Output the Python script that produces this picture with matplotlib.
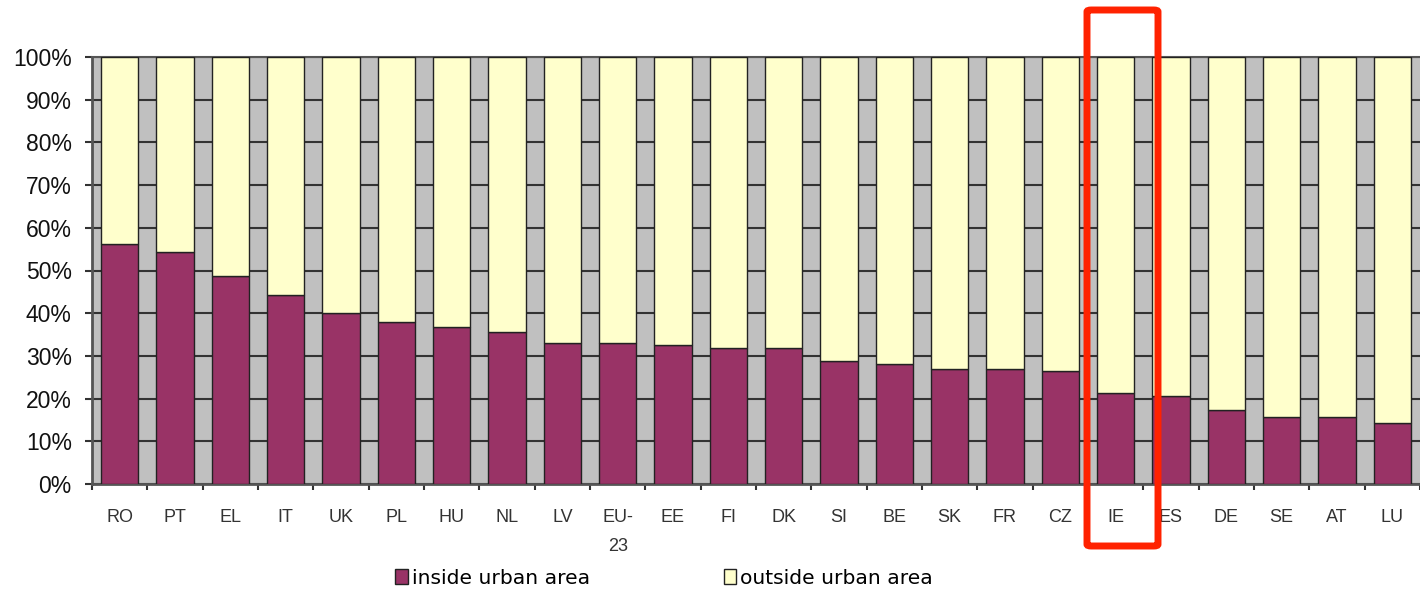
import numpy as np
import matplotlib.pyplot as plt
from matplotlib.patches import Patch, FancyBboxPatch

# Share of population inside / outside urban areas, by country
countries = ["RO", "PT", "EL", "IT", "UK", "PL", "HU", "NL", "LV", "EU-\n23",
             "EE", "FI", "DK", "SI", "BE", "SK", "FR", "CZ", "IE", "ES",
             "DE", "SE", "AT", "LU"]
inside = [56.2, 54.3, 48.7, 44.2, 40.0, 38.0, 36.8, 35.5, 33.1, 33.0,
          32.6, 31.8, 31.8, 28.7, 28.0, 27.0, 26.9, 26.4, 21.2, 20.6,
          17.3, 15.8, 15.6, 14.3]
outside = [100 - v for v in inside]

plt.rcParams['font.family'] = ['Liberation Sans', 'DejaVu Sans']

fig = plt.figure(figsize=(14.2, 5.92), dpi=100)
ax = fig.add_axes([92 / 1420, 1 - 484 / 592, 1 - 92 / 1420, (484 - 57) / 592])

x = np.arange(len(countries))
w = 0.68
ax.bar(x, inside, w, color="#993366", edgecolor="#222222", linewidth=1.0, zorder=3)
ax.bar(x, outside, w, bottom=inside, color="#FFFFCC", edgecolor="#222222",
       linewidth=1.0, zorder=3)

ax.set_facecolor("#C0C0C0")
ax.set_ylim(0, 100)
ax.set_xlim(-0.5, 23.19)
ax.set_yticks(np.arange(0, 101, 10))
ax.set_yticklabels([f"{v}%" for v in range(0, 101, 10)], fontsize=16.5, color="#111111")
ax.yaxis.grid(True, color="#333333", linewidth=1.5, zorder=1)
ax.set_axisbelow(True)

ax.set_xticks(x)
ax.set_xticklabels(countries, fontsize=13, color="#333333", va="top", linespacing=1.9)
ax.tick_params(axis="x", length=0, pad=18)
ax.set_xticks(np.arange(-0.5, len(countries), 1), minor=True)
ax.tick_params(axis="x", which="minor", length=4, width=1.5, color="#333333", direction="out")
ax.tick_params(axis="y", length=5, width=1.5, color="#333333", direction="out", pad=9.5)

for s in ["left", "bottom"]:
    ax.spines[s].set_color("#555555")
    ax.spines[s].set_linewidth(2)
ax.spines["top"].set_color("#555555")
ax.spines["top"].set_linewidth(1.5)
ax.spines["right"].set_visible(False)

handles = [Patch(facecolor="#993366", edgecolor="#222222", label="inside urban area"),
           Patch(facecolor="#FFFFCC", edgecolor="#222222", label="outside urban area")]
fig.legend(handles=handles, loc="center", bbox_to_anchor=(664 / 1420, 1 - 578 / 592),
           ncol=2, frameon=False, handlelength=0.6, handleheight=0.75, handletextpad=0.2,
           columnspacing=6.6, prop={"family": "DejaVu Sans", "size": 14.6})

# Highlight box around IE
fig.patches.append(FancyBboxPatch((1087 / 1420, 1 - 546 / 592), 71 / 1420, 536 / 592,
                                  boxstyle="round,pad=0,rounding_size=0.003",
                                  transform=fig.transFigure, fill=False,
                                  edgecolor="#FF2200", linewidth=5, zorder=10))

fig.savefig("out.png", dpi=100)
